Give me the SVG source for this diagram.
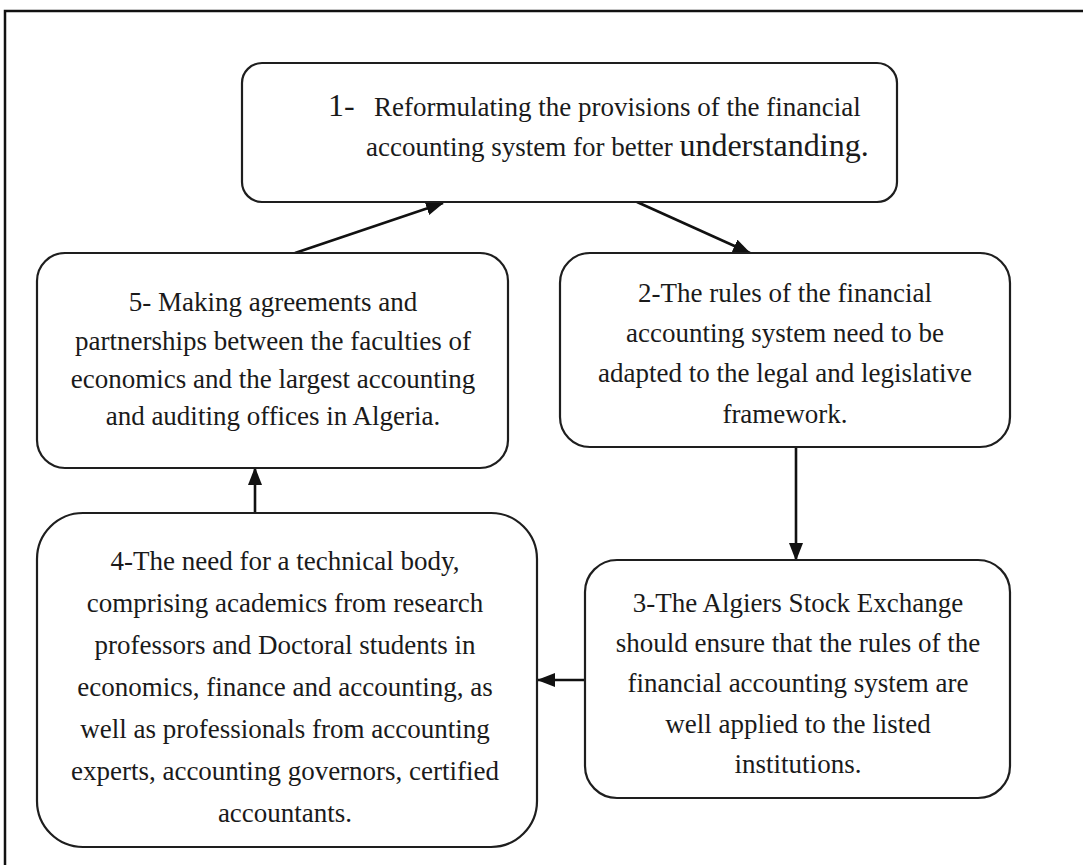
<svg xmlns="http://www.w3.org/2000/svg" width="1083" height="865" viewBox="0 0 1083 865">
<style>
.box{fill:#fff;stroke:#1e1e1e;stroke-width:2.2}
.t{font-family:"Liberation Serif","Times New Roman",serif;font-size:27px;fill:#1a1a1a}
.c{text-anchor:middle}
.conn{stroke:#111;stroke-width:2.6;fill:none}
</style>
<defs>
<marker id="ah" markerUnits="userSpaceOnUse" markerWidth="18" markerHeight="14" viewBox="0 0 18 14" refX="17" refY="7" orient="auto">
<path d="M0,0 L18,7 L0,14 Z" fill="#111"/>
</marker>
</defs>
<rect width="1083" height="865" fill="#fff"/>
<path d="M5,865 V11 H1083" fill="none" stroke="#111" stroke-width="2.5"/>

<g id="connectors">
<line class="conn" x1="295" y1="253" x2="443" y2="203" marker-end="url(#ah)"/>
<line class="conn" x1="637" y1="202" x2="750" y2="253" marker-end="url(#ah)"/>
<line class="conn" x1="796" y1="447" x2="796" y2="560" marker-end="url(#ah)"/>
<line class="conn" x1="585" y1="680" x2="538" y2="680" marker-end="url(#ah)"/>
<line class="conn" x1="255" y1="513" x2="255" y2="468" marker-end="url(#ah)"/>
</g>

<g id="node1">
<rect class="box" x="242" y="63" width="655" height="139" rx="20"/>
<text class="t" y="116"><tspan x="328" font-size="32">1-</tspan><tspan x="374">Reformulating the provisions of the financial</tspan></text>
<text class="t" x="366" y="156">accounting system for better <tspan font-size="32">understanding.</tspan></text>
</g>

<g id="node2">
<rect class="box" x="560" y="253" width="450" height="194" rx="30"/>
<text class="t c" x="785" y="302">2-The rules of the financial</text>
<text class="t c" x="785" y="342">accounting system need to be</text>
<text class="t c" x="785" y="382">adapted to the legal and legislative</text>
<text class="t c" x="785" y="423">framework.</text>
</g>

<g id="node3">
<rect class="box" x="585" y="560" width="425" height="238" rx="32"/>
<text class="t c" x="798" y="612">3-The Algiers Stock Exchange</text>
<text class="t c" x="798" y="652">should ensure that the rules of the</text>
<text class="t c" x="798" y="692">financial accounting system are</text>
<text class="t c" x="798" y="733">well applied to the listed</text>
<text class="t c" x="798" y="773">institutions.</text>
</g>

<g id="node4">
<rect class="box" x="37" y="513" width="500" height="334" rx="46"/>
<text class="t c" x="285" y="570">4-The need for a technical body,</text>
<text class="t c" x="285" y="612">comprising academics from research</text>
<text class="t c" x="285" y="654">professors and Doctoral students in</text>
<text class="t c" x="285" y="696">economics, finance and accounting, as</text>
<text class="t c" x="285" y="738">well as professionals from accounting</text>
<text class="t c" x="285" y="780">experts, accounting governors, certified</text>
<text class="t c" x="285" y="822">accountants.</text>
</g>

<g id="node5">
<rect class="box" x="37" y="253" width="471" height="215" rx="28"/>
<text class="t c" x="273" y="311">5- Making agreements and</text>
<text class="t c" x="273" y="350">partnerships between the faculties of</text>
<text class="t c" x="273" y="388">economics and the largest accounting</text>
<text class="t c" x="273" y="425">and auditing offices in Algeria.</text>
</g>
</svg>
